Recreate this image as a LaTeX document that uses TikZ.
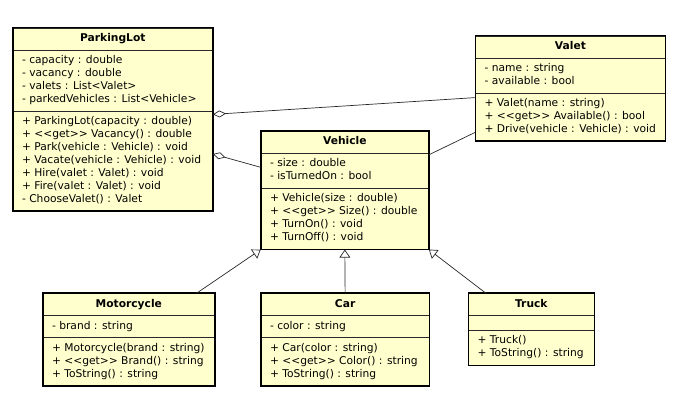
\documentclass[tikz,border=0pt]{standalone}
\usepackage{fontspec}
\setmainfont{DejaVu Sans}
\usetikzlibrary{shapes.multipart,arrows.meta,calc}
\definecolor{classbg}{RGB}{255,255,206}
\definecolor{wire}{RGB}{40,40,40}
\tikzset{
  umlclass/.style={rectangle split, rectangle split parts=3,
    rectangle split part align={center,left,left},
    draw=wire, line width=0.6pt, fill=classbg, align=left,
    inner xsep=9pt, inner ysep=4.2pt, anchor=north west,
    font=\fontsize{10.7}{13}\selectfont},
  frame/.style={draw=black, line width=1.6pt},
  aggr/.style={draw=wire, line width=0.7pt, {Diamond[open,length=13pt,width=7pt]}-},
  inherit/.style={draw=wire, line width=0.7pt, -{Triangle[open,length=8pt,width=11pt]}}
}
\begin{document}
\begin{tikzpicture}[x=1pt,y=-1pt]
  \fill[white] (0,0) rectangle (688,403);
  % classes
  \node[umlclass, minimum width=199.6pt] (plot) at (12.7,27.7) {\strut\textbf{ParkingLot}
    \nodepart{second}\strut- capacity : double\\\strut- vacancy : double\\\strut- valets : List<Valet>\\\strut- parkedVehicles : List<Vehicle>
    \nodepart{third}\strut+ ParkingLot(capacity : double)\\\strut+ <{}<get>{}> Vacancy() : double\\\strut+ Park(vehicle : Vehicle) : void\\\strut+ Vacate(vehicle : Vehicle) : void\\\strut+ Hire(valet : Valet) : void\\\strut+ Fire(valet : Valet) : void\\\strut- ChooseValet() : Valet};
  \node[umlclass, minimum width=189.7pt] (valet) at (475.3,35.7) {\strut\textbf{Valet}
    \nodepart{second}\strut- name : string\\\strut- available : bool
    \nodepart{third}\strut+ Valet(name : string)\\\strut+ <{}<get>{}> Available() : bool\\\strut+ Drive(vehicle : Vehicle) : void};
  \node[umlclass, minimum width=167.6pt] (veh) at (260.7,131) {\strut\textbf{Vehicle}
    \nodepart{second}\strut- size : double\\\strut- isTurnedOn : bool
    \nodepart{third}\strut+ Vehicle(size : double)\\\strut+ <{}<get>{}> Size() : double\\\strut+ TurnOn() : void\\\strut+ TurnOff() : void};
  \node[umlclass, minimum width=171.6pt] (moto) at (42.7,293.3) {\strut\textbf{Motorcycle}
    \nodepart{second}\strut- brand : string
    \nodepart{third}\strut+ Motorcycle(brand : string)\\\strut+ <{}<get>{}> Brand() : string\\\strut+ ToString() : string};
  \node[umlclass, minimum width=168.3pt] (car) at (260.7,293.3) {\strut\textbf{Car}
    \nodepart{second}\strut- color : string
    \nodepart{third}\strut+ Car(color : string)\\\strut+ <{}<get>{}> Color() : string\\\strut+ ToString() : string};
  \node[umlclass, minimum width=125.7pt] (truck) at (468.3,293.3) {\strut\textbf{Truck}
    \nodepart{second}
    \nodepart{third}\strut+ Truck()\\\strut+ ToString() : string};
  \foreach \c in {plot,valet,veh,moto,car,truck}
    \draw[frame] (\c.north west) rectangle (\c.south east);
  % associations
  \draw[aggr] ([yshift=-3.4pt]plot.second split east) -- ([yshift=-4.6pt]valet.second split west);
  \draw[aggr] ([yshift=-43pt]plot.second split east) -- ([yshift=-14pt]veh.text split west);
  \draw[wire, line width=0.7pt] ([yshift=-1.5pt]veh.text split east) -- ([yshift=9pt]valet.south west);
  % generalizations
  \draw[inherit] ($(moto.north west)!0.893!(moto.north east)$) -- (veh.south west);
  \draw[inherit] (car.north) -- (veh.south);
  \draw[inherit] ($(truck.north west)!0.14!(truck.north east)$) -- (veh.south east);
\end{tikzpicture}
\end{document}
